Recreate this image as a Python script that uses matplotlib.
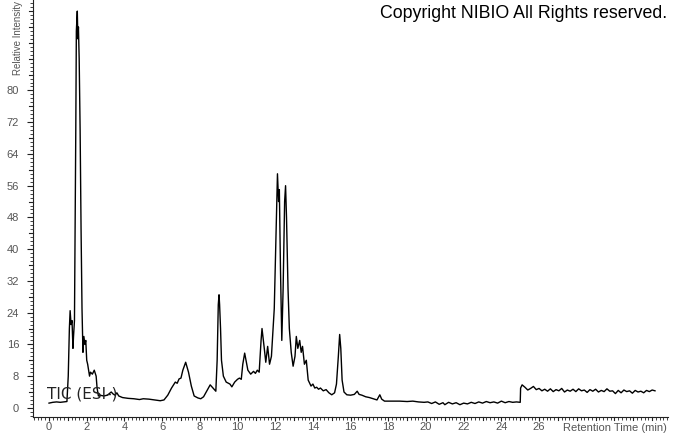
import matplotlib
matplotlib.use("Agg")
import matplotlib.pyplot as plt
from matplotlib.ticker import MultipleLocator, FixedLocator

# Retention time (min) and relative intensity
rt = [0.0, 0.2, 0.4, 0.6, 0.8, 0.95, 1.02, 1.08, 1.12, 1.17, 1.22, 1.27, 1.3, 1.35,
      1.42, 1.45, 1.5, 1.53, 1.56, 1.6, 1.65, 1.7, 1.75, 1.8, 1.85, 1.9, 1.95, 2.0,
      2.05, 2.1, 2.15, 2.2, 2.3, 2.4, 2.5, 2.55, 2.62, 2.7, 2.9, 3.1, 3.3, 3.4, 3.5,
      3.6, 3.7, 3.9, 4.2, 4.5, 4.8, 5.0, 5.3, 5.6, 5.9, 6.1, 6.3, 6.5, 6.7, 6.8, 6.9,
      7.0, 7.1, 7.25, 7.4, 7.55, 7.7, 7.9, 8.05, 8.2, 8.4, 8.55, 8.7, 8.85, 8.92,
      8.98, 9.02, 9.05, 9.1, 9.15, 9.25, 9.4, 9.6, 9.7, 9.85, 10.0, 10.1, 10.2, 10.28,
      10.38, 10.45, 10.55, 10.7, 10.85, 10.95, 11.05, 11.15, 11.25, 11.3, 11.35,
      11.42, 11.5, 11.6, 11.7, 11.8, 11.95, 12.05, 12.12, 12.18, 12.22, 12.28, 12.35,
      12.42, 12.5, 12.55, 12.6, 12.68, 12.75, 12.85, 12.95, 13.05, 13.12, 13.2, 13.3,
      13.38, 13.45, 13.55, 13.65, 13.75, 13.9, 14.0, 14.1, 14.2, 14.3, 14.4, 14.55,
      14.7, 14.85, 15.0, 15.15, 15.25, 15.35, 15.42, 15.48, 15.55, 15.65, 15.8, 16.0,
      16.2, 16.35, 16.45, 16.6, 16.8, 17.0, 17.2, 17.4, 17.55, 17.65, 17.8, 18.2,
      18.6, 19.0, 19.3, 19.6, 19.9, 20.1, 20.3, 20.5, 20.7, 20.9, 21.0, 21.2, 21.4,
      21.6, 21.8, 22.0, 22.2, 22.4, 22.6, 22.8, 23.0, 23.2, 23.4, 23.6, 23.8, 24.0,
      24.2, 24.4, 24.6, 24.8, 25.0, 25.02, 25.1, 25.25, 25.4, 25.55, 25.7, 25.85,
      26.0, 26.15, 26.3, 26.45, 26.6, 26.75, 26.9, 27.05, 27.2, 27.35, 27.5, 27.65,
      27.8, 27.95, 28.1, 28.25, 28.4, 28.55, 28.7, 28.85, 29.0, 29.15, 29.3, 29.45,
      29.6, 29.75, 29.9, 30.05, 30.2, 30.35, 30.5, 30.65, 30.8, 30.95, 31.1, 31.25,
      31.4, 31.55, 31.7, 31.85, 32.0, 32.15]
intensity = [1.2, 1.4, 1.5, 1.4, 1.5, 1.6, 8, 20, 24.5, 21, 22, 15, 18, 22,
             70, 95, 100, 93, 96, 88, 70, 45, 25, 14, 18, 16, 17, 12,
             11, 9.5, 8, 9, 8.5, 9.5, 8, 5, 3, 3.2, 3.0, 3.2, 4.0, 3.5, 3.2,
             3.8, 3.0, 2.6, 2.4, 2.3, 2.1, 2.3, 2.2, 2.0, 1.8, 2.0, 3.2, 5, 6.5, 6.2, 7.3,
             7.5, 9.5, 11.5, 9, 5.5, 3, 2.5, 2.3, 2.8, 4.5, 5.8, 5, 4.2, 12,
             26, 28.5, 26, 20, 12, 8, 6.5, 6, 5.3, 6.5, 7.2, 7.5, 7.2, 11,
             13.8, 12, 9.5, 8.5, 9.2, 8.7, 9.5, 9, 17, 20, 18,
             15, 11.5, 15.5, 11, 13, 25, 45, 59, 52, 55, 35, 17,
             30, 52, 56, 48, 30, 20, 14, 10.5, 13, 18, 15, 17,
             14, 15.5, 11, 12, 7, 5.5, 6, 5, 5.2, 4.7, 5, 4.3,
             4.6, 3.8, 3.3, 3.8, 6, 13, 18.5, 15, 7, 4, 3.3, 3.2,
             3.4, 4.2, 3.4, 3.2, 2.8, 2.6, 2.3, 2.0, 3.3, 2.2, 1.7, 1.7,
             1.7, 1.6, 1.7, 1.5, 1.4, 1.5, 1.1, 1.5, 0.9, 1.3, 0.8, 1.4, 1.0,
             1.3, 0.8, 1.2, 1.0, 1.4, 1.1, 1.5, 1.2, 1.6, 1.3, 1.5, 1.2, 1.7,
             1.3, 1.6, 1.4, 1.5, 1.4, 5, 5.8, 5.2, 4.5, 4.9, 5.4, 4.6,
             4.9, 4.3, 4.7, 4.2, 4.8, 4.1, 4.6, 4.3, 4.9, 4.0, 4.5, 4.2,
             4.7, 4.1, 4.8, 4.3, 4.5, 3.9, 4.6, 4.2, 4.7, 4.0, 4.4, 4.1,
             4.8, 4.2, 4.3, 3.6, 4.4, 3.8, 4.5, 4.1, 4.3, 3.7, 4.4, 4.0,
             4.2, 3.8, 4.4, 4.1, 4.5, 4.3]

x_tick_labels = [0, 2, 4, 6, 8, 10, 12, 14, 16, 18, 20, 22, 24, 26]
y_tick_labels = [0, 8, 16, 24, 32, 40, 48, 56, 64, 72, 80]

plt.rcParams['font.family'] = ['Liberation Sans', 'DejaVu Sans']

fig = plt.figure(figsize=(6.74, 4.34), dpi=100)
ax = fig.add_axes([33 / 674, 1 - 417 / 434, (668 - 33) / 674, 417 / 434])

ax.plot(rt, intensity, color='black', lw=1.0)

ax.set_xlim(-0.85, 32.84)
ax.set_ylim(-2.3, 102.8)

for s in ('top', 'right'):
    ax.spines[s].set_visible(False)
for s in ('left', 'bottom'):
    ax.spines[s].set_color('#222222')
    ax.spines[s].set_linewidth(0.8)

ax.xaxis.set_major_locator(FixedLocator(x_tick_labels))
ax.set_xticklabels([str(v) for v in x_tick_labels])
ax.xaxis.set_minor_locator(MultipleLocator(0.2))
ax.yaxis.set_major_locator(FixedLocator(y_tick_labels))
ax.set_yticklabels([str(v) for v in y_tick_labels])
ax.yaxis.set_minor_locator(MultipleLocator(1))

ax.tick_params(axis='y', which='major', length=4, width=0.8, color='#222222',
               labelsize=8, labelcolor='#555555', pad=6)
ax.tick_params(axis='x', which='major', length=3, width=0.8, color='#222222',
               labelsize=8, labelcolor='#555555', pad=0.5)
ax.tick_params(axis='both', which='minor', length=2, width=0.6, color='#222222')

# extra longer ticks between the labelled ones
for v in (84, 88, 92, 96, 100, 4, 12, 20, 28, 36, 44, 52, 60, 68, 76):
    ax.plot([-0.85, -0.85 - 0.2], [v, v], color='#222222', lw=0.8, clip_on=False)
for v in list(range(1, 33, 2)) + [28, 30, 32]:
    ax.plot([v, v], [-2.3, -2.3 - 0.75], color='#222222', lw=0.8, clip_on=False)

fig.text(0.990, 1 - 428 / 434, 'Retention Time (min)', ha='right', va='center',
         fontsize=8, color='#555555')
fig.text(18 / 674, 0.998, 'Relative Intensity', rotation=90, ha='center',
         va='top', fontsize=7, color='#555555')
fig.text(667 / 674, 1 - 14 / 434, 'Copyright NIBIO All Rights reserved.',
         ha='right', va='center', fontsize=12.8, color='black')
ax.text(-0.1, 3.6, 'TIC (ESI-)', ha='left', va='center', fontsize=11,
        color='#222222', family=['DejaVu Sans'])

fig.savefig('out.png', dpi=100)
